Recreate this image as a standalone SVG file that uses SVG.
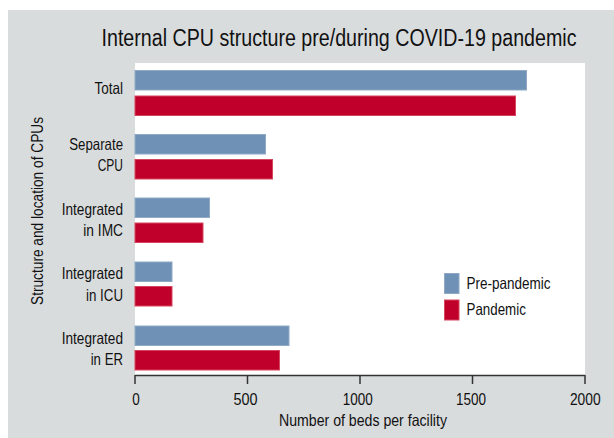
<svg xmlns="http://www.w3.org/2000/svg" width="614" height="438" viewBox="0 0 614 438">
<style>
text{font-family:"Liberation Sans",Arial,sans-serif;fill:#111;font-size:16.5px}
.lab{text-anchor:end}
.tick{text-anchor:middle}
.pre{fill:#6e91b5;stroke:#8fa9c6;stroke-width:1}
.pan{fill:#c0002b;stroke:#d4475f;stroke-width:1}
.ax{stroke:#333;stroke-width:1.5;fill:none}
</style>
<rect x="8" y="10" width="606" height="428" fill="#d9dcdd"/>
<rect x="135" y="63" width="450" height="312" fill="#ffffff"/>
<text transform="translate(339,46) scale(0.85,1)" x="0" y="0" style="font-size:23.5px;text-anchor:middle" textLength="558.8" lengthAdjust="spacingAndGlyphs">Internal CPU structure pre/during COVID-19 pandemic</text>
<g id="bars">
<g id="total"><rect class="pre" x="135" y="70.5" width="391.5" height="19.5"/><rect class="pan" x="135" y="96" width="380.5" height="19.5"/><text class="lab" x="123" y="93.5" textLength="28.5" lengthAdjust="spacingAndGlyphs">Total</text></g>
<g id="separate"><rect class="pre" x="135" y="134.5" width="130.5" height="19.5"/><rect class="pan" x="135" y="159.5" width="137.5" height="19.5"/><text class="lab" x="123" y="150" textLength="53.7" lengthAdjust="spacingAndGlyphs">Separate</text><text class="lab" x="123" y="171" textLength="25.3" lengthAdjust="spacingAndGlyphs">CPU</text></g>
<g id="imc"><rect class="pre" x="135" y="198" width="74.5" height="19.5"/><rect class="pan" x="135" y="223" width="68" height="19.5"/><text class="lab" x="123" y="215" textLength="61.3" lengthAdjust="spacingAndGlyphs">Integrated</text><text class="lab" x="123" y="236" textLength="39.7" lengthAdjust="spacingAndGlyphs">in IMC</text></g>
<g id="icu"><rect class="pre" x="135" y="262" width="37" height="19.5"/><rect class="pan" x="135" y="286.5" width="37" height="19.5"/><text class="lab" x="123" y="279" textLength="61.3" lengthAdjust="spacingAndGlyphs">Integrated</text><text class="lab" x="123" y="300.5" textLength="37" lengthAdjust="spacingAndGlyphs">in ICU</text></g>
<g id="er"><rect class="pre" x="135" y="326" width="154" height="19.5"/><rect class="pan" x="135" y="350.5" width="144.5" height="19.5"/><text class="lab" x="123" y="344" textLength="61.3" lengthAdjust="spacingAndGlyphs">Integrated</text><text class="lab" x="123" y="365" textLength="32.3" lengthAdjust="spacingAndGlyphs">in ER</text></g>
</g>
<g id="axis">
<path class="ax" d="M135 375.5H585M135 375V384M247.5 375V384M360 375V384M472.5 375V384M585 375V384"/>
<text class="tick" x="136" y="405" textLength="7.5" lengthAdjust="spacingAndGlyphs">0</text>
<text class="tick" x="245.5" y="405" textLength="24" lengthAdjust="spacingAndGlyphs">500</text>
<text class="tick" x="357.7" y="405" textLength="30" lengthAdjust="spacingAndGlyphs">1000</text>
<text class="tick" x="471" y="405" textLength="30" lengthAdjust="spacingAndGlyphs">1500</text>
<text class="tick" x="585.3" y="405" textLength="30.7" lengthAdjust="spacingAndGlyphs">2000</text>
<text x="363" y="426" style="text-anchor:middle" textLength="168" lengthAdjust="spacingAndGlyphs">Number of beds per facility</text>
<text transform="translate(43,211) rotate(-90)" style="text-anchor:middle" textLength="188" lengthAdjust="spacingAndGlyphs">Structure and location of CPUs</text>
</g>
<g id="legend">
<rect class="pre" x="444.5" y="273.5" width="14.5" height="20"/>
<rect class="pan" x="444.5" y="300" width="14.5" height="20"/>
<text x="466.5" y="288.5" textLength="84" lengthAdjust="spacingAndGlyphs">Pre-pandemic</text>
<text x="466.5" y="315" textLength="59.3" lengthAdjust="spacingAndGlyphs">Pandemic</text>
</g>
</svg>
